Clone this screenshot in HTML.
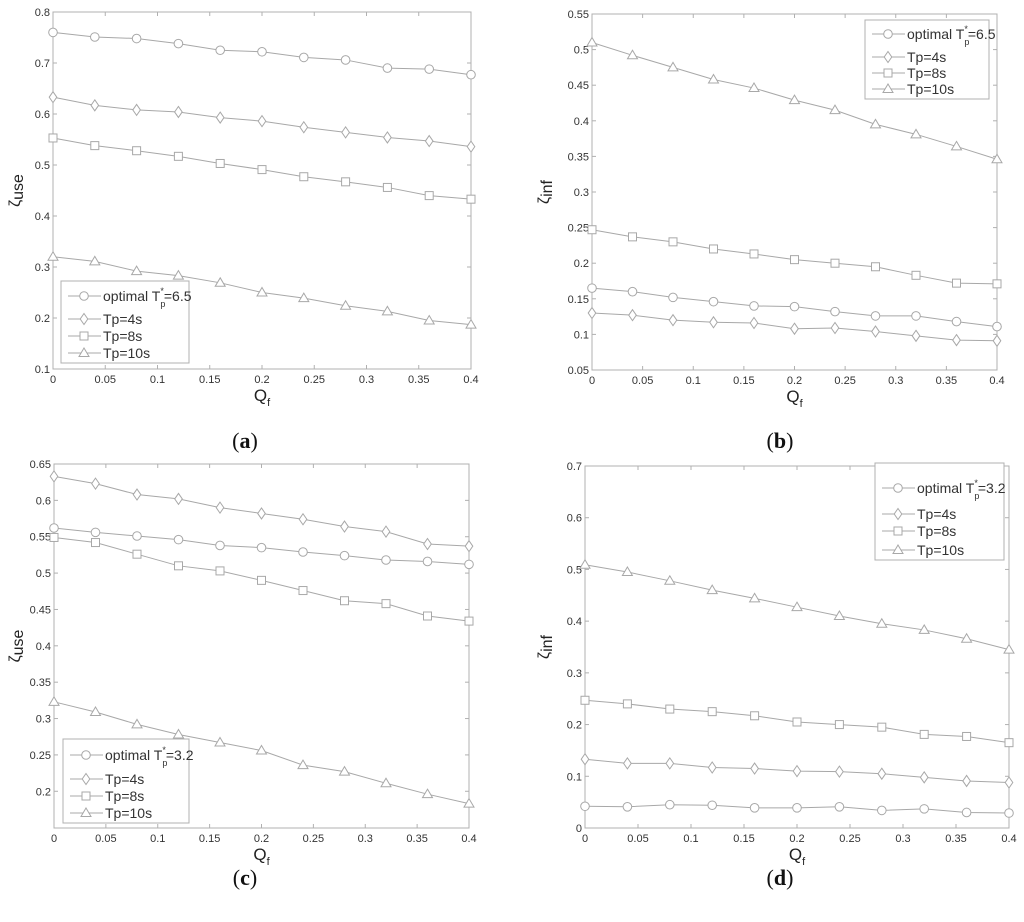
<!DOCTYPE html>
<html><head><meta charset="utf-8"><style>
body{margin:0;background:#fff;}
svg{display:block;font-family:"Liberation Sans",sans-serif;}
.tk{font-size:11px;fill:#333;}
</style></head><body>
<svg id="fig" width="1024" height="922" viewBox="0 0 1024 922"></svg>
<script>
const qf = [0,0.04,0.08,0.12,0.16,0.2,0.24,0.28,0.32,0.36,0.4];
const xTicks = [0,0.05,0.1,0.15,0.2,0.25,0.3,0.35,0.4];
const xTickLabels = ["0","0.05","0.1","0.15","0.2","0.25","0.3","0.35","0.4"];
const seriesNames = ["optimal","Tp=4s","Tp=8s","Tp=10s"];
const aCircle = [.76,.751,.748,.738,.725,.722,.711,.706,.690,.688,.677];
const aDiamond = [.633,.617,.608,.604,.593,.586,.574,.564,.554,.547,.536];
const aSquare = [.553,.538,.528,.517,.503,.491,.477,.467,.456,.440,.433];
const aTriangle = [.320,.311,.292,.283,.269,.250,.239,.224,.213,.195,.187];
const bCircle = [.165,.160,.152,.146,.140,.139,.132,.126,.126,.118,.111];
const bDiamond = [.130,.127,.120,.117,.116,.108,.109,.104,.098,.092,.091];
const bSquare = [.247,.237,.230,.220,.213,.205,.200,.195,.183,.172,.171];
const bTriangle = [.510,.492,.475,.458,.446,.429,.415,.395,.381,.364,.346];
const cCircle = [.562,.556,.551,.546,.538,.535,.529,.524,.518,.516,.512];
const cDiamond = [.633,.623,.608,.602,.590,.582,.574,.564,.557,.540,.537];
const cSquare = [.549,.542,.526,.510,.503,.490,.476,.462,.458,.441,.434];
const cTriangle = [.323,.309,.292,.278,.267,.256,.236,.227,.211,.196,.183];
const dCircle = [.042,.041,.045,.044,.039,.039,.041,.034,.037,.030,.029];
const dDiamond = [.133,.125,.125,.117,.115,.110,.109,.105,.098,.091,.088];
const dSquare = [.247,.240,.230,.225,.217,.205,.200,.195,.181,.177,.165];
const dTriangle = [.509,.495,.478,.460,.444,.427,.410,.395,.383,.366,.345];
const aYTicks = [0.1,0.2,0.3,0.4,0.5,0.6,0.7,0.8];
const bYTicks = [0.05,0.1,0.15,0.2,0.25,0.3,0.35,0.4,0.45,0.5,0.55];
const cYTicks = [0.2,0.25,0.3,0.35,0.4,0.45,0.5,0.55,0.6,0.65];
const dYTicks = [0,0.1,0.2,0.3,0.4,0.5,0.6,0.7];

const NS="http://www.w3.org/2000/svg";
const svg=document.getElementById('fig');
function mk(tag,attrs,parent){const e=document.createElementNS(NS,tag);for(const k in attrs)e.setAttribute(k,attrs[k]);(parent||svg).appendChild(e);return e;}
const LC="#a8a8a8";
function marker(g,type,x,y){
  let e;
  if(type===0)e=mk('circle',{cx:x,cy:y,r:4.3,fill:'#fff',stroke:LC},g);
  else if(type===1)e=mk('polygon',{points:`${x},${y-5.5} ${x+3.8},${y} ${x},${y+5.5} ${x-3.8},${y}`,fill:'#fff',stroke:LC},g);
  else if(type===2)e=mk('rect',{x:x-4,y:y-4,width:8,height:8,fill:'#fff',stroke:LC},g);
  else e=mk('polygon',{points:`${x},${y-5} ${x+5},${y+3.5} ${x-5},${y+3.5}`,fill:'#fff',stroke:LC},g);
  
  
}
function panel(p){
  const g=mk('g',{});
  
  
  const sx=v=>p.L+(v-0)/(0.4)*(p.R-p.L);
  const sy=v=>p.B-(v-p.ymin)/(p.ymax-p.ymin)*(p.B-p.T);
  const ax=mk('rect',{x:p.L,y:p.T,width:p.R-p.L,height:p.B-p.T,fill:'none',stroke:'#b0b0b0'},g);
  
  xTicks.forEach((t,i)=>{const x=sx(t);
    mk('line',{x1:x,y1:p.B,x2:x,y2:p.B-4,stroke:'#b0b0b0'},g);mk('line',{x1:x,y1:p.T,x2:x,y2:p.T+4,stroke:'#b0b0b0'},g);
    const tx=mk('text',{x:x,y:p.B+14,'text-anchor':'middle',class:'tk'},g);tx.textContent=xTickLabels[i];
    });
  p.yt.forEach(t=>{const y=sy(t);
    mk('line',{x1:p.L,y1:y,x2:p.L+4,y2:y,stroke:'#b0b0b0'},g);mk('line',{x1:p.R,y1:y,x2:p.R-4,y2:y,stroke:'#b0b0b0'},g);
    const tx=mk('text',{x:p.L-3,y:y+4,'text-anchor':'end',class:'tk'},g);tx.textContent=String(+t.toFixed(2));
    });
  p.series.forEach((s,k)=>{
    const pl=mk('polyline',{points:s.map((v,i)=>sx(qf[i])+','+sy(v)).join(' '),fill:'none',stroke:LC},g);
    
    s.forEach((v,i)=>marker(g,k,sx(qf[i]),sy(v)));
  });
  const lg=mk('g',{},g);
  mk('rect',{x:p.lx,y:p.ly,width:p.lw,height:p.lh,fill:'#fff',stroke:'#b0b0b0'},lg);
  p.rows.forEach((dy,k)=>{
    const y=p.ly+dy;
    const ent=mk('g',{},lg);
    mk('line',{x1:p.lx+7,y1:y,x2:p.lx+40,y2:y,stroke:LC},ent);marker(ent,k,p.lx+23,y);
    const t=mk('text',{x:p.lx+42,y:y+5,'font-size':'14','fill':'#333'},ent);
    if(k===0){t.innerHTML='optimal T<tspan font-size="9" dy="6">p</tspan><tspan font-size="9" dy="-13" dx="-5">*</tspan><tspan dy="7">='+p.opt+'</tspan>';}
    else t.textContent=seriesNames[k];
  });
  const xl=mk('text',{x:(p.L+p.R)/2,y:p.B+32,'text-anchor':'middle','font-size':'17',fill:'#222'},g);
  xl.innerHTML='Q<tspan font-size="11" dy="5">f</tspan>';
  
  const yl=mk('text',{transform:`translate(${p.L-p.yo},${(p.T+p.B)/2}) rotate(-90)`,'text-anchor':'middle','font-size':'16',fill:'#222'},g);
  yl.innerHTML='ζ<tspan dy="3">'+p.ysub+'</tspan>';
  
  const cap=mk('text',{x:p.capx,y:p.capy,'text-anchor':'middle','font-size':'22','font-family':'Liberation Serif, serif',fill:'#111'},g);
  cap.innerHTML='(<tspan font-weight="bold">'+p.id+'</tspan>)';
  
}
panel({id:'a',L:53,R:471,T:12,B:369,ymin:0.1,ymax:0.8,yt:aYTicks,series:[aCircle,aDiamond,aSquare,aTriangle],lx:61,ly:281,lw:128,lh:82,rows:[15,38,55,72],opt:'6.5',ysub:'use',yo:33,capx:245,capy:448});
panel({id:'b',L:592,R:997,T:14,B:370,ymin:0.05,ymax:0.55,yt:bYTicks,series:[bCircle,bDiamond,bSquare,bTriangle],lx:865,ly:20,lw:124,lh:79,rows:[14,37,53,69],opt:'6.5',ysub:'inf',yo:43,capx:780,capy:448});
panel({id:'c',L:54,R:469,T:464,B:828,ymin:0.1495,ymax:0.65,yt:cYTicks,series:[cCircle,cDiamond,cSquare,cTriangle],lx:63,ly:739,lw:126,lh:84,rows:[16,40,57,74],opt:'3.2',ysub:'use',yo:34,capx:245,capy:885});
panel({id:'d',L:585,R:1009,T:466,B:828,ymin:0,ymax:0.7,yt:dYTicks,series:[dCircle,dDiamond,dSquare,dTriangle],lx:875,ly:463,lw:129,lh:97,rows:[25,51,68,87],opt:'3.2',ysub:'inf',yo:36,capx:780,capy:885});
</script>
</body></html>
